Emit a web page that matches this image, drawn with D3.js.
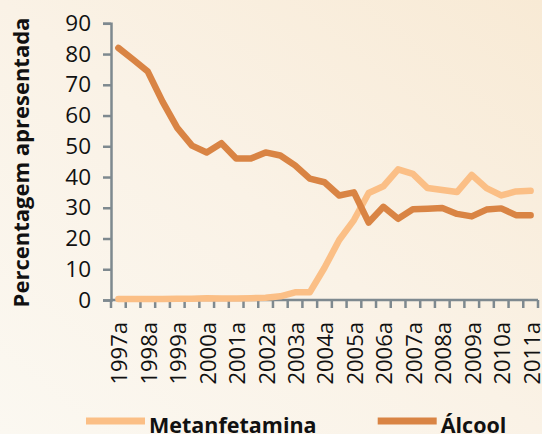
<!DOCTYPE html>
<html>
<head>
<meta charset="utf-8">
<script src="https://cdn.jsdelivr.net/npm/d3@7"></script>
<style>
  html, body { margin: 0; padding: 0; background: #faf3e6; }
  svg { display: block; }
  text { font-family: "Open Sans", "Noto Sans", sans-serif; fill: #111; }
</style>
</head>
<body>
<svg id="chart" width="542" height="434"></svg>
<script>
// ---- data ----
const categories = ["1997a","1997b","1998a","1998b","1999a","1999b","2000a","2000b","2001a","2001b",
  "2002a","2002b","2003a","2003b","2004a","2004b","2005a","2005b","2006a","2006b",
  "2007a","2007b","2008a","2008b","2009a","2009b","2010a","2010b","2011a"];
const tickLabels = ["1997a","1998a","1999a","2000a","2001a","2002a","2003a","2004a","2005a",
  "2006a","2007a","2008a","2009a","2010a","2011a"];
const metanfetamina = [0.3,0.3,0.3,0.3,0.4,0.4,0.6,0.5,0.5,0.6,0.7,1.2,2.5,2.5,10.5,19.5,26,34.8,
  37,42.5,41,36.4,35.8,35.1,40.7,36.4,34,35.3,35.5];
const alcool = [82,78.2,74.3,64.5,56,50.2,48,51,46,46,48,47,43.8,39.5,38.3,34,35,25.2,30.3,26.4,
  29.5,29.7,29.9,28,27.2,29.4,29.8,27.6,27.6];
const yTicks = [0,10,20,30,40,50,60,70,80,90];
const seriesNames = ["Metanfetamina","Álcool"];
const seriesColors = ["#fbbf86","#d98444"];

// ---- layout ----
const W = 542, H = 434;
const m = {left: 111, right: 4, top: 23.3, bottom: 134};
const svg = d3.select("#chart");

const defs = svg.append("defs");
const grad = defs.append("linearGradient").attr("id","bg")
  .attr("x1","0").attr("y1","1").attr("x2","1").attr("y2","0");
grad.append("stop").attr("offset","0").attr("stop-color","#fbf8f1");
grad.append("stop").attr("offset","0.5").attr("stop-color","#faf2e6");
grad.append("stop").attr("offset","1").attr("stop-color","#f8ead5");
svg.append("rect").attr("width",W).attr("height",H).attr("fill","url(#bg)");

const x = d3.scaleBand().domain(categories).range([m.left, W - m.right]).paddingInner(0).paddingOuter(0);
const y = d3.scaleLinear().domain([0,90]).range([H - m.bottom, m.top]);

const axisColor = "#7e898f";

// y axis
const yAxis = svg.append("g").attr("transform",`translate(${m.left},0)`)
  .call(d3.axisLeft(y).tickValues(yTicks).tickSize(8).tickPadding(12).tickFormat(d3.format("d")));
yAxis.select(".domain").attr("stroke",axisColor).attr("stroke-width",2.5);
yAxis.selectAll(".tick line").attr("stroke",axisColor).attr("stroke-width",2.5);
yAxis.selectAll(".tick text").style("font-size","22.5px").attr("fill","#111")
  .style("font-family","\"Open Sans\", sans-serif");

// x axis
const xAxisG = svg.append("g").attr("transform",`translate(0,${y(0)})`);
xAxisG.append("line").attr("x1",m.left).attr("x2",W - m.right).attr("stroke",axisColor).attr("stroke-width",2.5);
const bounds = categories.map(c => x(c)).concat([x(categories[categories.length-1]) + x.bandwidth()]);
xAxisG.selectAll("line.tk").data(bounds).join("line").attr("class","tk")
  .attr("x1",d=>d).attr("x2",d=>d).attr("y1",0).attr("y2",8)
  .attr("stroke",axisColor).attr("stroke-width",2.5);
xAxisG.selectAll("text.lbl").data(tickLabels).join("text").attr("class","lbl")
  .attr("transform",d=>`translate(${x(d)+x.bandwidth()/2+1},22) rotate(-90)`)
  .attr("text-anchor","end").attr("dy","0.36em")
  .style("font-size","22px").text(d=>d);

// lines
const line = d3.line().x((d,i)=>x(categories[i])+x.bandwidth()/2).y(d=>y(d)).curve(d3.curveLinear);
[metanfetamina, alcool].forEach((s,k)=>{
  svg.append("path").datum(s).attr("d",line).attr("fill","none")
    .attr("stroke",seriesColors[k]).attr("stroke-width",6.5)
    .attr("stroke-linejoin","round").attr("stroke-linecap","round");
});

// y title
svg.append("text").attr("transform",`translate(28.5,162.5) rotate(-90)`)
  .attr("text-anchor","middle").style("font-size","22px").style("font-weight","bold")
  .text("Percentagem apresentada");

// legend
const legendX = [86, 377.7];
seriesNames.forEach((n,k)=>{
  const g = svg.append("g").attr("transform",`translate(${legendX[k]},421)`);
  g.append("line").attr("x1",0).attr("x2",59).attr("stroke",seriesColors[k]).attr("stroke-width",7);
  g.append("text").attr("x",63).attr("y",12).style("font-size","21.5px").style("font-weight","bold").text(n);
});
</script>
</body>
</html>
